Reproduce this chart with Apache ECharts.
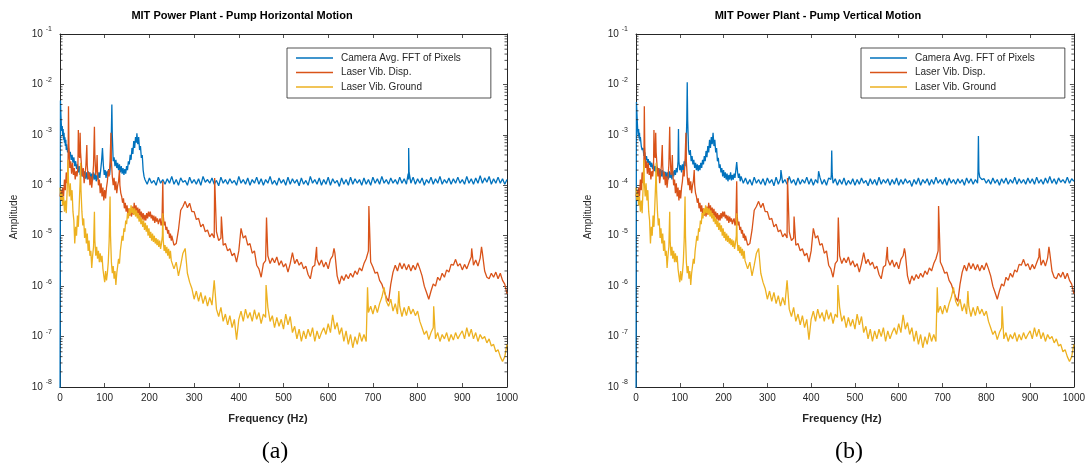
<!DOCTYPE html>
<html><head><meta charset="utf-8">
<script src="https://cdn.jsdelivr.net/npm/echarts@6/dist/echarts.min.js"></script>
<style>html,body{margin:0;padding:0;background:#fff}#c{width:1088px;height:465px}</style>
</head><body><div id="c"></div>
<script>
const seriesNames = ['Camera Avg. FFT of Pixels', 'Laser Vib. Disp.', 'Laser Vib. Ground'];
const panelTitles = ['MIT Power Plant - Pump Horizontal Motion', 'MIT Power Plant - Pump Vertical Motion'];
const panelTags = ['(a)', '(b)'];
const xLabel = 'Frequency (Hz)';
const yLabel = 'Amplitude';
const xMin = 0, xMax = 1000, xStep = 100;
const yMin = 1e-8, yMax = 1e-1;
const gridStep = 5; // Hz spacing of the uniform part of each spectrum

// ---- Camera, horizontal motion ----
const camHLow = [[0,1e-9],[1,4.8e-3],[2,2.5e-3],[3,1.6e-3],[4,1.2e-3],[5,1.5e-3],[6,1.0e-3],[7,1.3e-3],[8,8e-4],[9,1.1e-3],[10,7e-4],[11,9e-4],[12,6e-4],[13,8e-4],[14,5e-4],[15,6.5e-4],[17,4.5e-4],[19,5.5e-4],[21,3.8e-4],[23,4.6e-4],[25,3.2e-4],[27,4e-4],[29,2.8e-4],[31,3.6e-4],[33,2.4e-4],[35,3e-4],[37,2.1e-4],[39,2.6e-4],[41,1.8e-4],[43,2.4e-4],[45,1.6e-4],[47,2.2e-4],[49,1.5e-4],[51,2e-4],[53,1.4e-4],[55,1.9e-4],[57,1.35e-4],[59,1.8e-4],[61,1.3e-4],[63,1.9e-4],[65,1.4e-4],[67,1.8e-4],[69,1.3e-4],[71,1.7e-4],[73,1.25e-4],[75,1.8e-4],[77,1.3e-4],[79,1.7e-4],[81,1.2e-4],[83,1.6e-4],[85,1.3e-4],[87,1.8e-4],[89,1.4e-4],[91,2e-4],[93,3e-4],[95,5.5e-4],[97,2.5e-4],[99,1.6e-4],[101,2e-4],[103,1.4e-4],[105,1.9e-4],[107,1.5e-4],[109,2.1e-4],[111,1.6e-4],[113,2.6e-4],[115,1.2e-3],[116,4e-3],[117,1.0e-3],[119,3e-4],[121,3.6e-4],[123,2.4e-4],[125,3.2e-4],[127,2.2e-4],[129,2.8e-4],[131,2e-4],[133,2.6e-4],[135,1.8e-4],[137,2.4e-4],[139,1.7e-4],[141,2.2e-4],[143,1.6e-4],[145,2.1e-4],[147,1.7e-4],[149,2.4e-4],[151,2e-4],[153,3e-4],[155,2.6e-4],[157,4e-4],[159,3.2e-4],[161,5.5e-4],[163,4.2e-4],[165,7.5e-4],[167,5.5e-4],[169,9e-4],[171,7e-4],[172,1.07e-3],[174,6.5e-4],[176,9e-4],[178,5e-4],[180,6e-4],[182,3.5e-4],[184,4e-4],[186,2e-4],[188,1.5e-4]];
const camHGridStart = 190;
const camHGrid = [
1.3e-4,1.05e-4,1.4e-4,1.1e-4,1.25e-4,1.0e-4,1.45e-4,1.1e-4,1.3e-4,1.05e-4,
1.35e-4,1.1e-4,1.5e-4,1.05e-4,1.3e-4,1.0e-4,1.4e-4,1.15e-4,1.25e-4,1.0e-4,
1.45e-4,1.1e-4,1.3e-4,1.05e-4,1.35e-4,1.0e-4,1.5e-4,1.15e-4,1.3e-4,1.1e-4,
1.4e-4,1.05e-4,1.25e-4,0.98e-4,1.45e-4,1.1e-4,1.3e-4,1.05e-4,1.35e-4,1.1e-4,
1.25e-4,1.0e-4,1.5e-4,1.1e-4,1.3e-4,1.05e-4,1.4e-4,1.0e-4,1.3e-4,1.1e-4,
1.45e-4,1.05e-4,1.35e-4,1.0e-4,1.3e-4,1.1e-4,1.5e-4,1.05e-4,1.25e-4,1.0e-4,
1.4e-4,1.1e-4,1.3e-4,1.0e-4,1.45e-4,1.05e-4,1.35e-4,1.1e-4,1.3e-4,0.98e-4,
1.4e-4,1.05e-4,1.25e-4,1.0e-4,1.5e-4,1.1e-4,1.3e-4,1.05e-4,1.4e-4,1.0e-4,
1.3e-4,1.05e-4,1.45e-4,1.0e-4,1.35e-4,1.1e-4,1.25e-4,0.95e-4,1.4e-4,1.05e-4,
1.3e-4,1.0e-4,1.45e-4,1.05e-4,1.35e-4,1.1e-4,1.3e-4,1.0e-4,1.4e-4,1.05e-4,
1.3e-4,1.0e-4,1.45e-4,1.1e-4,1.35e-4,1.05e-4,1.5e-4,1.1e-4,1.3e-4,1.05e-4,
1.4e-4,1.1e-4,1.3e-4,1.05e-4,1.45e-4,1.1e-4,1.35e-4,1.05e-4,1.3e-4,1.1e-4,
1.45e-4,1.05e-4,1.35e-4,1.1e-4,1.4e-4,1.0e-4,1.3e-4,1.1e-4,1.45e-4,1.05e-4,
1.35e-4,1.1e-4,1.5e-4,1.05e-4,1.3e-4,1.1e-4,1.4e-4,1.05e-4,1.35e-4,1.1e-4,
1.45e-4,1.1e-4,1.3e-4,1.05e-4,1.5e-4,1.1e-4,1.35e-4,1.05e-4,1.4e-4,1.1e-4,
1.55e-4,1.1e-4,1.4e-4,1.15e-4,1.5e-4,1.05e-4,1.35e-4,1.1e-4,1.45e-4,1.1e-4,
1.35e-4,1.05e-4,1.3e-4];
const camHSpikes = [[779,1.7e-4],[780,5.5e-4],[781,1.8e-4]];

// ---- Camera, vertical motion ----
const camVLow = [[0,1e-9],[1,4.5e-3],[2,2.8e-3],[3,1.8e-3],[4,1.2e-3],[5,1.0e-3],[6,1.3e-3],[7,8.5e-4],[8,1.1e-3],[9,7.5e-4],[10,9e-4],[12,6e-4],[14,5e-4],[16,5.5e-4],[18,3.8e-4],[20,4.5e-4],[22,3.2e-4],[24,3.8e-4],[26,2.8e-4],[28,3.3e-4],[30,2.5e-4],[32,3e-4],[34,2.3e-4],[36,2.8e-4],[38,2.1e-4],[40,2.6e-4],[42,1.9e-4],[44,2.4e-4],[46,1.8e-4],[48,2.3e-4],[50,1.7e-4],[52,2.2e-4],[54,1.6e-4],[56,2.1e-4],[58,1.5e-4],[60,2e-4],[62,1.45e-4],[64,1.9e-4],[66,1.4e-4],[68,1.85e-4],[70,1.35e-4],[72,1.8e-4],[74,1.3e-4],[76,1.9e-4],[78,1.4e-4],[80,1.8e-4],[82,1.3e-4],[84,1.9e-4],[86,1.5e-4],[88,2e-4],[90,1.6e-4],[92,2.2e-4],[94,1.8e-4],[96,3e-4],[97,1.3e-3],[98,3e-4],[100,2e-4],[102,2.5e-4],[104,1.8e-4],[106,2.6e-4],[108,2e-4],[110,3e-4],[112,2.4e-4],[114,4e-4],[116,2e-3],[117,1.1e-2],[118,2e-3],[120,5e-4],[122,4e-4],[124,5e-4],[126,3e-4],[128,3.8e-4],[130,2.6e-4],[132,3.2e-4],[134,2.2e-4],[136,2.8e-4],[138,2e-4],[140,2.6e-4],[142,1.9e-4],[144,2.5e-4],[146,2e-4],[148,2.8e-4],[150,2.2e-4],[152,3.2e-4],[154,2.6e-4],[156,3.8e-4],[158,3e-4],[160,4.8e-4],[162,3.6e-4],[164,6e-4],[166,4.5e-4],[168,8e-4],[170,5.5e-4],[172,9e-4],[174,6.5e-4],[176,1.1e-3],[178,6e-4],[180,8e-4],[182,4.5e-4],[184,5.5e-4],[186,3e-4],[188,3.5e-4],[190,2.2e-4],[192,2.6e-4],[194,1.8e-4],[196,2.2e-4],[198,1.5e-4],[200,2e-4],[202,1.4e-4],[204,1.8e-4],[206,1.3e-4],[208,1.7e-4],[210,1.2e-4],[212,1.6e-4],[214,1.3e-4],[216,1.8e-4],[218,1.25e-4],[220,1.6e-4],[222,1.3e-4],[224,1.7e-4],[226,1.4e-4],[228,2e-4],[230,2.9e-4],[232,1.8e-4],[234,1.4e-4],[236,1.7e-4],[238,1.2e-4],[240,1.5e-4]];
const camVGridStart = 245;
const camVGrid = [
1.1e-4,1.4e-4,1.05e-4,1.3e-4,1.0e-4,1.45e-4,1.1e-4,1.3e-4,1.05e-4,1.35e-4,
1.0e-4,1.4e-4,1.1e-4,1.3e-4,0.98e-4,1.45e-4,1.05e-4,1.35e-4,1.1e-4,1.3e-4,
1.05e-4,1.5e-4,1.1e-4,1.3e-4,1.0e-4,1.4e-4,1.05e-4,1.3e-4,1.1e-4,1.45e-4,
1.05e-4,1.35e-4,1.0e-4,1.3e-4,1.1e-4,1.45e-4,1.05e-4,1.3e-4,1.0e-4,1.4e-4,
1.3e-4,1.1e-4,1.35e-4,1.0e-4,1.3e-4,1.05e-4,1.4e-4,1.0e-4,1.25e-4,1.05e-4,
1.35e-4,1.0e-4,1.3e-4,1.05e-4,1.4e-4,1.1e-4,1.25e-4,0.98e-4,1.35e-4,1.05e-4,
1.3e-4,1.0e-4,1.45e-4,1.05e-4,1.3e-4,1.1e-4,1.35e-4,1.0e-4,1.3e-4,1.05e-4,
1.4e-4,1.0e-4,1.3e-4,1.05e-4,1.35e-4,1.1e-4,1.25e-4,0.95e-4,1.3e-4,1.05e-4,
1.4e-4,1.0e-4,1.3e-4,1.1e-4,1.35e-4,1.0e-4,1.3e-4,1.05e-4,1.45e-4,1.1e-4,
1.3e-4,1.05e-4,1.35e-4,1.0e-4,1.4e-4,1.1e-4,1.3e-4,1.05e-4,1.35e-4,1.1e-4,
1.3e-4,1.0e-4,1.4e-4,1.1e-4,1.35e-4,1.05e-4,1.3e-4,1.1e-4,1.45e-4,1.3e-4,
1.35e-4,1.1e-4,1.3e-4,1.05e-4,1.4e-4,1.1e-4,1.3e-4,1.0e-4,1.35e-4,1.1e-4,
1.4e-4,1.05e-4,1.3e-4,1.1e-4,1.45e-4,1.05e-4,1.35e-4,1.1e-4,1.3e-4,1.05e-4,
1.4e-4,1.1e-4,1.35e-4,1.05e-4,1.45e-4,1.1e-4,1.3e-4,1.05e-4,1.4e-4,1.1e-4,
1.5e-4,1.1e-4,1.35e-4,1.05e-4,1.4e-4,1.15e-4,1.3e-4,1.1e-4,1.45e-4,1.1e-4,
1.35e-4,1.2e-4];
const camVSpikes = [[331,2e-4],[417,1.9e-4],[446,1.6e-4],[447,4.9e-4],[448,1.7e-4],[781,1.8e-4],[782,9.5e-4],[783,1.9e-4]];

// ---- Laser vibrometer, displacement (same in both panels) ----
const dispLow = [[0,6e-5],[2,8e-5],[4,5e-5],[6,9e-5],[8,6e-5],[10,1.3e-4],[12,8e-5],[14,1.8e-4],[16,1.1e-4],[18,2.5e-4],[19,3.7e-3],[20,6e-4],[22,2.2e-4],[24,3e-4],[26,1.7e-4],[28,2.8e-4],[30,1.6e-4],[32,2.2e-4],[34,1.3e-4],[36,1.9e-4],[38,1.5e-4],[40,2.2e-4],[41,1.25e-3],[42,4e-4],[44,3.5e-4],[45,1.1e-3],[46,4.5e-4],[48,2.5e-4],[50,1.5e-4],[52,2.2e-4],[54,1.1e-4],[56,1.6e-4],[58,2.5e-4],[60,6.3e-4],[61,2.5e-4],[63,1.3e-4],[65,1.8e-4],[67,1e-4],[69,1.5e-4],[71,9e-5],[73,1.4e-4],[75,2.5e-4],[77,1.45e-3],[78,4e-4],[80,1.6e-4],[82,2.2e-4],[83,4e-4],[84,1.8e-4],[86,1e-4],[88,1.3e-4],[90,7e-5],[92,1.1e-4],[94,6e-5],[96,9e-5],[98,5e-5],[100,8e-5],[102,5.5e-5],[104,9e-5],[106,1.2e-4],[108,2e-4],[110,1.5e-4],[112,3e-4],[114,1.1e-3],[115,3e-4],[117,1.5e-4],[119,1e-4],[121,1.4e-4],[123,8e-5],[125,1.2e-4],[127,7e-5],[129,1e-4],[131,1.2e-4],[133,2e-4],[134,1e-4],[136,7e-5],[138,6e-5],[140,4.5e-5],[142,5.5e-5],[144,3.5e-5],[146,4.5e-5],[148,3e-5],[150,4e-5],[152,2.6e-5],[154,3.5e-5],[156,2.5e-5],[158,3.2e-5],[160,2.4e-5],[162,3.8e-5],[164,2.6e-5],[166,4.5e-5],[168,3e-5],[170,4e-5],[172,2.8e-5],[174,3.6e-5],[176,2.5e-5],[178,3.4e-5],[180,2.3e-5],[182,3e-5],[184,2.1e-5],[186,2.8e-5],[188,2e-5],[190,2.6e-5],[192,2e-5],[194,2.8e-5],[196,2.2e-5],[198,3e-5],[200,2.4e-5],[202,3e-5],[204,2.2e-5],[206,2.6e-5],[208,2e-5],[210,2.5e-5],[212,1.8e-5],[214,2.4e-5],[216,1.9e-5],[218,2.2e-5],[220,1.7e-5],[222,2e-5],[224,2.2e-5],[226,1.6e-5],[228,1.8e-5],[230,1.2e-4],[231,2.5e-5],[233,1.6e-5],[235,1.9e-5],[237,1.3e-5],[239,1.5e-5],[241,1.1e-5],[243,1.3e-5],[245,9e-6],[247,1.1e-5],[249,8e-6]];
const dispGridStart = 250;
const dispGrid = [
1.0e-5,6.5e-6,7e-6,1.3e-5,3.2e-5,3.8e-5,4.8e-5,3.6e-5,4.4e-5,3.0e-5,
3.0e-5,2.1e-5,2.2e-5,1.5e-5,1.7e-5,1.2e-5,1.3e-5,9.5e-6,1.1e-5,9e-6,
1.2e-5,8e-6,9e-6,6.5e-6,7e-6,5e-6,5.5e-6,4e-6,4.5e-6,3e-6,
5e-6,1.4e-5,9e-6,1e-5,6.5e-6,7e-6,4.5e-6,5e-6,2.6e-6,2.2e-6,
1.5e-6,2.8e-6,3.2e-6,4e-6,2.8e-6,3.6e-6,2.9e-6,3.8e-6,2.6e-6,3.2e-6,
2.4e-6,2.8e-6,1.9e-6,2.8e-6,4.6e-6,2.8e-6,3.4e-6,2.6e-6,3e-6,2.2e-6,
2.5e-6,1.7e-6,1.4e-6,2.4e-6,2.6e-6,3.4e-6,2.6e-6,3.3e-6,2.4e-6,3e-6,
2.2e-6,3.4e-6,4e-6,4.5e-6,1.6e-6,1.1e-6,1.6e-6,1.3e-6,1.7e-6,1.4e-6,
1.8e-6,1.5e-6,2e-6,1.7e-6,2.3e-6,2e-6,2.8e-6,3.5e-6,5e-6,3e-6,
2.4e-6,1.8e-6,1.9e-6,1.3e-6,1.1e-6,8e-7,6e-7,5e-7,1.1e-6,1.9e-6,
2.6e-6,2e-6,2.9e-6,2.2e-6,2.8e-6,2.1e-6,2.7e-6,2e-6,2.6e-6,2.1e-6,
2.9e-6,2.2e-6,1.6e-6,1e-6,7.5e-7,5.5e-7,8e-7,1.1e-6,1e-6,1.5e-6,
1.3e-6,1.8e-6,1.5e-6,2.1e-6,1.9e-6,2.7e-6,2.6e-6,3.4e-6,2.5e-6,2.8e-6,
2.1e-6,2.7e-6,2.2e-6,2.9e-6,3.8e-6,2.6e-6,3.3e-6,2.5e-6,3.6e-6,4.5e-6,
2e-6,1.5e-6,1.4e-6,1.8e-6,1.5e-6,1.9e-6,1.4e-6,1.8e-6,1.3e-6,1.1e-6,
7e-7];
const dispSpikes = [[346,1.4e-4],[361,2.4e-5],[462,2.3e-5],[574,6e-6],[613,5.6e-6],[691,3.9e-5],[921,5.6e-6],[943,6e-6]];

// ---- Laser vibrometer, ground (same in both panels) ----
const groundLow = [[0,9e-5],[2,5e-5],[4,7e-5],[6,4e-5],[8,6e-5],[10,3e-5],[12,5e-5],[14,2.8e-5],[16,8e-5],[18,3.2e-4],[19,1.2e-4],[21,6e-5],[23,1.1e-4],[25,5e-5],[27,8e-5],[29,3e-5],[31,2e-5],[33,7e-6],[35,1.5e-5],[37,1e-5],[39,2.5e-5],[41,1.5e-5],[43,4e-5],[45,1.2e-4],[46,2.8e-4],[47,8e-5],[49,3e-5],[51,1.6e-5],[53,2.2e-5],[55,9e-6],[57,1.4e-5],[59,7e-6],[61,1.1e-5],[63,5e-6],[65,8e-6],[67,4e-6],[69,5e-6],[71,2.3e-6],[73,4e-6],[75,6e-6],[77,3e-5],[78,8e-6],[80,4e-6],[82,6e-6],[84,3.5e-6],[86,5e-6],[88,3e-6],[90,4.5e-6],[92,3e-6],[94,4e-6],[96,2.2e-6],[98,1.6e-6],[100,1.2e-6],[102,2e-6],[104,1.3e-6],[106,1.8e-6],[108,3e-6],[110,8e-6],[112,6e-5],[113,1e-5],[115,3e-6],[117,1.8e-6],[119,2.5e-6],[121,1.4e-6],[123,2e-6],[125,1.05e-6],[127,1.8e-6],[129,2.5e-6],[131,3.5e-6],[133,2.8e-6],[135,5e-6],[137,7e-6],[139,1e-5],[141,8e-6],[143,1.4e-5],[145,1.2e-5],[147,2e-5],[149,1.7e-5],[151,2.8e-5],[153,2.2e-5],[155,3.5e-5],[157,2.6e-5],[159,4e-5],[161,2.8e-5],[163,3.6e-5],[165,2.6e-5],[167,3.5e-5],[169,2.4e-5],[171,3.2e-5],[173,2.2e-5],[175,2.8e-5],[177,1.9e-5],[179,2.5e-5],[181,1.7e-5],[183,2.2e-5],[185,1.5e-5],[187,2e-5],[189,1.3e-5],[191,1.8e-5],[193,1.2e-5],[195,1.6e-5],[197,1e-5],[199,1.4e-5],[201,9e-6],[203,1.2e-5],[205,8e-6],[207,1.1e-5],[209,7.5e-6],[211,1e-5],[213,7e-6],[215,9e-6],[217,6.5e-6],[219,8.5e-6],[221,6e-6],[223,8e-6],[225,5.5e-6],[227,7e-6],[229,1e-5],[230,2.8e-5],[231,8e-6],[233,5e-6],[235,6.5e-6],[237,4.5e-6],[239,6e-6],[241,4e-6],[243,5.5e-6],[245,3.5e-6],[247,5e-6],[249,3.2e-6]];
const groundGridStart = 250;
const groundGrid = [
3.5e-6,2.2e-6,3e-6,1.6e-6,2.6e-6,4.5e-6,5.6e-6,1.8e-6,1.2e-6,9e-7,
5.5e-7,8e-7,5e-7,7.5e-7,4.5e-7,6.5e-7,4e-7,6e-7,4.2e-7,1.3e-6,
3.5e-7,2.5e-7,3.8e-7,2e-7,2.8e-7,1.7e-7,2.6e-7,1.5e-7,2.2e-7,8.7e-8,
2.2e-7,3.2e-7,2e-7,3.5e-7,2.3e-7,3e-7,2e-7,3.4e-7,2.2e-7,3e-7,
1.8e-7,2.8e-7,2.4e-7,3.8e-7,2e-7,2.6e-7,1.5e-7,2.4e-7,1.6e-7,2.2e-7,
1.4e-7,2.8e-7,1.7e-7,2.5e-7,1.2e-7,1.6e-7,9e-8,1.4e-7,8e-8,1.3e-7,
9e-8,1.4e-7,1e-7,1.5e-7,8e-8,1.3e-7,9e-8,1.2e-7,1.5e-7,1.1e-7,
1.8e-7,1.2e-7,2.7e-7,1.4e-7,1.9e-7,1.1e-7,1.5e-7,8e-8,1.3e-7,7e-8,
1.1e-7,6e-8,1e-7,7e-8,1.2e-7,8e-8,1.1e-7,8e-8,3e-7,4e-7,
2.8e-7,4.2e-7,3e-7,4.5e-7,6e-7,9.5e-7,5e-7,4e-7,5.5e-7,3.2e-7,
4.5e-7,2.8e-7,4e-7,2.5e-7,3.8e-7,2.6e-7,4e-7,2.8e-7,3.5e-7,2.6e-7,
3.2e-7,2e-7,1.5e-7,1.1e-7,1.3e-7,8.7e-8,1.2e-7,1.5e-7,9e-8,1.2e-7,
8e-8,1.1e-7,9e-8,1.2e-7,8e-8,1.1e-7,8.5e-8,1.2e-7,9e-8,1.1e-7,
1.3e-7,9e-8,1.5e-7,1e-7,1.4e-7,9e-8,1.2e-7,8e-8,1.1e-7,9e-8,
1e-7,7.5e-8,9e-8,6.5e-8,7e-8,5e-8,5.5e-8,4e-8,3.2e-8,4e-8,
7e-8];
const groundSpikes = [[461,1.05e-6],[688,9.5e-7],[758,8e-7],[836,4e-7]];

const colors = ['#0072BD', '#D95319', '#EDB120'];
const axisColor = '#262626';
const FONT = '"Liberation Sans", Arial, Helvetica, sans-serif';

function build(low, start, grid, spikes) {
  const pts = low.concat(grid.map((v, i) => [start + i * gridStep, v]), spikes);
  pts.sort((a, b) => a[0] - b[0]);
  return pts;
}
const panels = [
  [build(camHLow, camHGridStart, camHGrid, camHSpikes), build(dispLow, dispGridStart, dispGrid, dispSpikes), build(groundLow, groundGridStart, groundGrid, groundSpikes)],
  [build(camVLow, camVGridStart, camVGrid, camVSpikes), build(dispLow, dispGridStart, dispGrid, dispSpikes), build(groundLow, groundGridStart, groundGrid, groundSpikes)]
];

// minor tick values of the log axis (2..9 x 10^n)
const minorVals = [];
for (let d = -8; d < -1; d++) for (let k = 2; k <= 9; k++) minorVals.push([0, k * Math.pow(10, d)]);

const gridsPos = [{left: 60, top: 34, width: 447, height: 353}, {left: 636, top: 34, width: 441, height: 353}];
const titleX = [242, 818];
const xNameX = [268, 842];
const yNameX = [14, 588];
const tagX = [275, 849];
const legendX = [287, 861];

const chart = echarts.init(document.getElementById('c'), null, {renderer: 'canvas'});
const option = {
  animation: false,
  backgroundColor: '#fff',
  grid: gridsPos.map(g => Object.assign({containLabel: false}, g)),
  xAxis: [], yAxis: [], series: [], legend: [], graphic: []
};
gridsPos.forEach((g, p) => {
  const tickStyle = {show: true, inside: true, length: 4, lineStyle: {color: axisColor, width: 0.8}};
  option.xAxis.push({
    type: 'value', gridIndex: p, min: xMin, max: xMax, interval: xStep, position: 'bottom',
    axisLine: {show: true, onZero: false, lineStyle: {color: axisColor, width: 1}},
    axisTick: tickStyle, splitLine: {show: false},
    axisLabel: {color: axisColor, fontSize: 10, fontFamily: FONT, margin: 6, formatter: v => String(v)}
  });
  option.xAxis.push({
    type: 'value', gridIndex: p, min: xMin, max: xMax, interval: xStep, position: 'top',
    axisLine: {show: true, onZero: false, lineStyle: {color: axisColor, width: 1}},
    axisTick: tickStyle, splitLine: {show: false}, axisLabel: {show: false}
  });
  option.yAxis.push({
    type: 'log', logBase: 10, gridIndex: p, min: yMin, max: yMax, position: 'left',
    axisLine: {show: true, onZero: false, lineStyle: {color: axisColor, width: 1}},
    axisTick: tickStyle, splitLine: {show: false}, minorTick: {show: false},
    axisLabel: {
      margin: 8, fontFamily: FONT,
      formatter: v => '{b|10}{e|' + Math.round(Math.log10(v)) + '}',
      rich: {
        b: {fontSize: 10, color: axisColor, fontFamily: FONT},
        e: {fontSize: 7, color: axisColor, fontFamily: FONT, padding: [0, 0, 9, 3]}
      }
    }
  });
  option.yAxis.push({
    type: 'log', logBase: 10, gridIndex: p, min: yMin, max: yMax, position: 'right',
    axisLine: {show: true, onZero: false, lineStyle: {color: axisColor, width: 1}},
    axisTick: tickStyle, splitLine: {show: false}, axisLabel: {show: false}
  });
  panels[p].forEach((data, s) => {
    option.series.push({
      type: 'line', name: seriesNames[s], xAxisIndex: p * 2, yAxisIndex: p * 2,
      data: data, symbol: 'none', showSymbol: false, sampling: null, clip: true, silent: true,
      lineStyle: {color: colors[s], width: 1.3}, itemStyle: {color: colors[s]}, z: 2 + s
    });
  });
  option.series.push({
    type: 'custom', name: 'minorTicks' + p, xAxisIndex: p * 2, yAxisIndex: p * 2, silent: true, z: 10,
    data: minorVals,
    renderItem: (params, api) => {
      const v = api.value(1);
      const a = api.coord([xMin, v]);
      const b = api.coord([xMax, v]);
      const st = {stroke: axisColor, lineWidth: 0.8};
      return {type: 'group', children: [
        {type: 'line', shape: {x1: a[0], y1: a[1], x2: a[0] + 2.5, y2: a[1]}, style: st},
        {type: 'line', shape: {x1: b[0] - 2.5, y1: b[1], x2: b[0], y2: b[1]}, style: st}
      ]};
    }
  });
  option.legend.push({
    left: legendX[p], top: 48, orient: 'vertical', data: seriesNames,
    icon: 'rect', itemWidth: 37, itemHeight: 1.5, itemGap: 2.5, padding: [4, 30, 5, 9],
    backgroundColor: '#fff', borderColor: axisColor, borderWidth: 0.8, borderRadius: 0,
    selectedMode: false, z: 20,
    textStyle: {fontSize: 10, color: axisColor, fontFamily: FONT, padding: [0, 0, 0, 3], lineHeight: 12}
  });
  option.graphic.push(
    {type: 'text', x: titleX[p], y: 16, style: {text: panelTitles[p], font: 'bold 11px ' + FONT, fill: '#000', textAlign: 'center', textVerticalAlign: 'middle', align: 'center', verticalAlign: 'middle'}},
    {type: 'text', x: xNameX[p], y: 419, style: {text: xLabel, font: 'bold 11px ' + FONT, fill: axisColor, textAlign: 'center', textVerticalAlign: 'middle', align: 'center', verticalAlign: 'middle'}},
    {type: 'text', x: yNameX[p], y: 217, rotation: Math.PI / 2, style: {text: yLabel, font: '10px ' + FONT, fill: axisColor, textAlign: 'center', textVerticalAlign: 'middle', align: 'center', verticalAlign: 'middle'}},
    {type: 'text', x: tagX[p], y: 452, style: {text: panelTags[p], font: '24px "Liberation Serif", "Times New Roman", serif', fill: '#000', textAlign: 'center', textVerticalAlign: 'middle', align: 'center', verticalAlign: 'middle'}}
  );
});
chart.setOption(option);
</script>
</body></html>
